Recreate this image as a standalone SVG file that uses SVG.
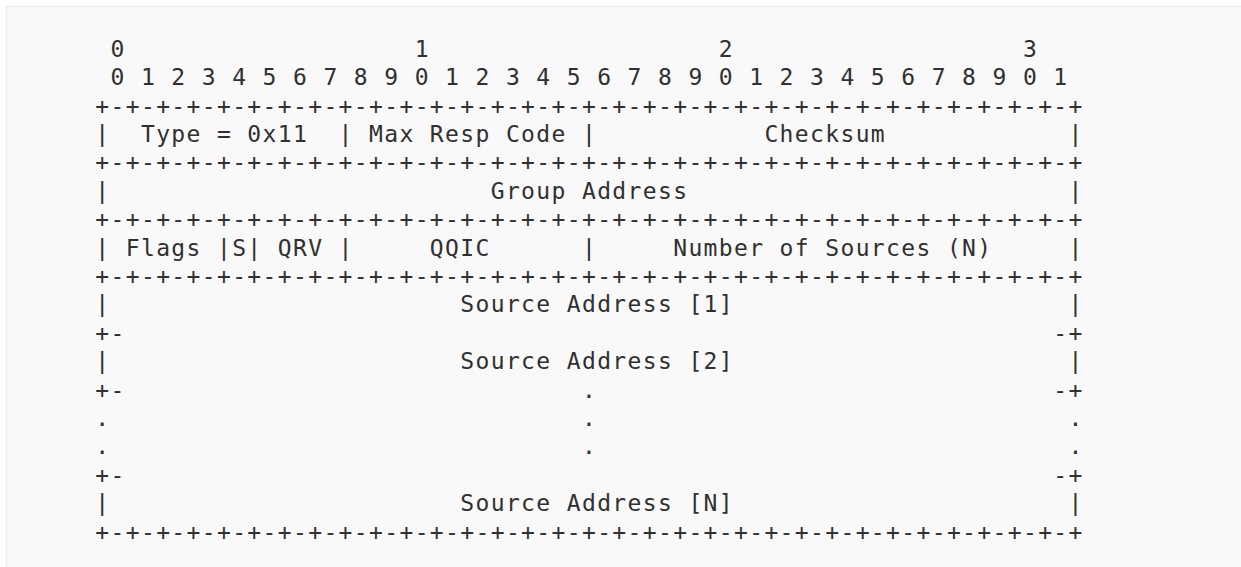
<svg xmlns="http://www.w3.org/2000/svg" width="1241" height="567" viewBox="0 0 1241 567" xml:space="preserve">
<style>
.t { font-family: "DejaVu Sans Mono", "Liberation Mono", monospace; font-size: 23px; letter-spacing: 1.36px; fill: #303030; white-space: pre; }
</style>
<rect x="0" y="0" width="1241" height="567" fill="#ffffff"/>
<rect x="6.5" y="6.5" width="1250" height="580" fill="#f9f9f9" stroke="#ebebeb" stroke-width="1.5"/>
<g id="packet">
<text class="t" x="95.3" y="56.7"> 0                   1                   2                   3</text>
<text class="t" x="95.3" y="85.1"> 0 1 2 3 4 5 6 7 8 9 0 1 2 3 4 5 6 7 8 9 0 1 2 3 4 5 6 7 8 9 0 1</text>
<text class="t" x="95.3" y="113.5">+-+-+-+-+-+-+-+-+-+-+-+-+-+-+-+-+-+-+-+-+-+-+-+-+-+-+-+-+-+-+-+-+</text>
<text class="t" x="95.3" y="141.9">|  Type = 0x11  | Max Resp Code |           Checksum            |</text>
<text class="t" x="95.3" y="170.3">+-+-+-+-+-+-+-+-+-+-+-+-+-+-+-+-+-+-+-+-+-+-+-+-+-+-+-+-+-+-+-+-+</text>
<text class="t" x="95.3" y="198.7">|                         Group Address                         |</text>
<text class="t" x="95.3" y="227.1">+-+-+-+-+-+-+-+-+-+-+-+-+-+-+-+-+-+-+-+-+-+-+-+-+-+-+-+-+-+-+-+-+</text>
<text class="t" x="95.3" y="255.5">| Flags |S| QRV |     QQIC      |     Number of Sources (N)     |</text>
<text class="t" x="95.3" y="283.9">+-+-+-+-+-+-+-+-+-+-+-+-+-+-+-+-+-+-+-+-+-+-+-+-+-+-+-+-+-+-+-+-+</text>
<text class="t" x="95.3" y="312.3">|                       Source Address [1]                      |</text>
<text class="t" x="95.3" y="340.7">+-                                                             -+</text>
<text class="t" x="95.3" y="369.1">|                       Source Address [2]                      |</text>
<text class="t" x="95.3" y="397.5">+-                              .                              -+</text>
<text class="t" x="95.3" y="425.9">.                               .                               .</text>
<text class="t" x="95.3" y="454.3">.                               .                               .</text>
<text class="t" x="95.3" y="482.7">+-                                                             -+</text>
<text class="t" x="95.3" y="511.1">|                       Source Address [N]                      |</text>
<text class="t" x="95.3" y="539.5">+-+-+-+-+-+-+-+-+-+-+-+-+-+-+-+-+-+-+-+-+-+-+-+-+-+-+-+-+-+-+-+-+</text>
</g>
</svg>
